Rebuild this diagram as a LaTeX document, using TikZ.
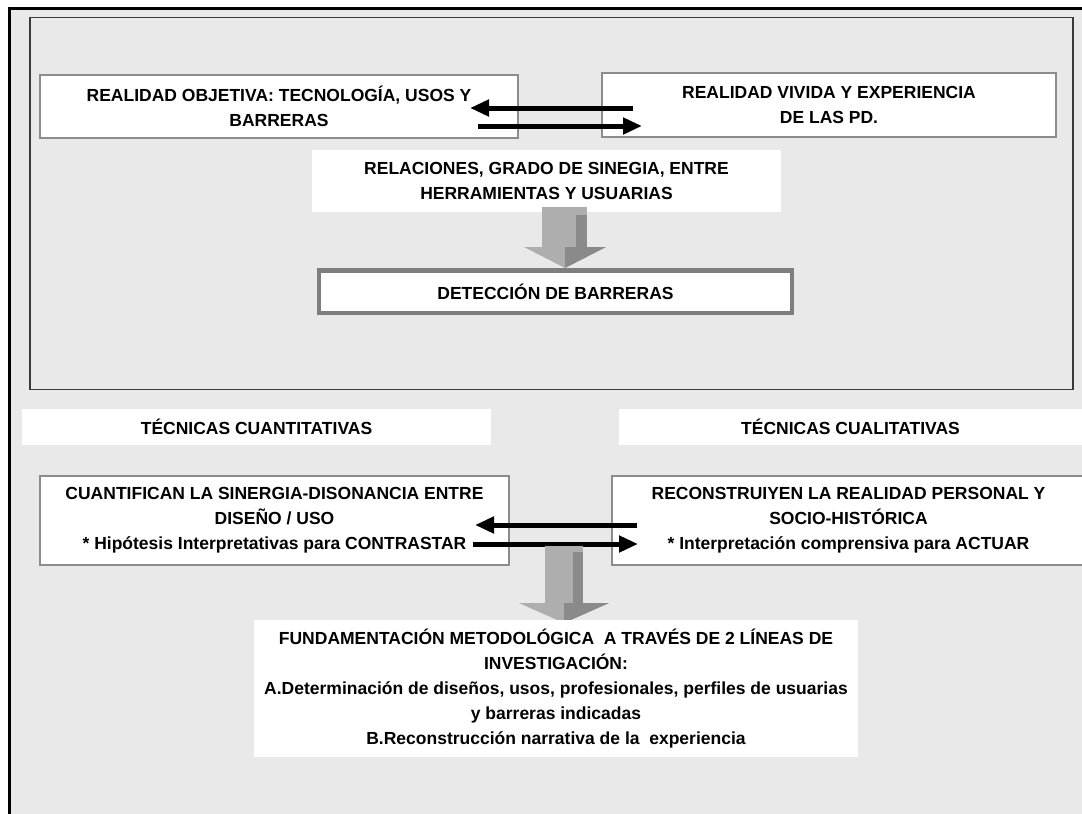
\documentclass[tikz,border=0pt]{standalone}
\usepackage{fontspec}
\setmainfont{Liberation Sans}
\usetikzlibrary{arrows.meta}
\definecolor{bg}{HTML}{E9E9E9}
\definecolor{boxgray}{HTML}{8C8C8C}
\definecolor{framegray}{HTML}{3A3A3A}
\definecolor{arrlight}{HTML}{AEAEAE}
\definecolor{arrdark}{HTML}{8A8A8A}
\definecolor{detgray}{HTML}{7E7E7E}
\begin{document}
\begin{tikzpicture}[x=1pt,y=-1pt,
  every node/.style={font=\bfseries\fontsize{17.5}{25}\selectfont, align=center, inner sep=0pt, text=black},
  wbox/.style={draw=boxgray, line width=1.3pt, fill=white},
  plainbox/.style={fill=white},
  detbox/.style={draw=detgray, line width=4.5pt, fill=white},
  dbl/.style={line width=5pt, -{Triangle[length=19pt,width=16pt]}},
]
\useasboundingbox (0,0) rectangle (1082,814);
\fill[white] (0,0) rectangle (1082,814);
\fill[bg] (9,8) rectangle (1082,814);
\draw[line width=3pt] (9,814) -- (9,8) -- (1082,8);

% upper frame
\draw[line width=1.8pt, draw=framegray] (30,17.5) rectangle (1073,389.5);

\node[wbox, minimum width=478pt, minimum height=63pt] (b1) at (279,106.5)
  {REALIDAD OBJETIVA: TECNOLOGÍA, USOS Y\\BARRERAS};
\node[wbox, minimum width=454pt, minimum height=64pt] (b2) at (829,105)
  {REALIDAD VIVIDA Y EXPERIENCIA\\DE LAS PD.};
\node[plainbox, minimum width=469pt, minimum height=62pt] (b3) at (546.5,181)
  {RELACIONES, GRADO DE SINEGIA, ENTRE\\HERRAMIENTAS Y USUARIAS};
\node[detbox, minimum width=473pt, minimum height=42.5pt] (b4) at (555.5,291.5)
  {DETECCIÓN DE BARRERAS};

% black double arrows (top)
\coordinate (a1s) at (633,108); \coordinate (a1e) at (470,108);
\coordinate (a2s) at (478,126); \coordinate (a2e) at (642,126);
\draw[dbl] (a1s) -- (a1e);
\draw[dbl] (a2s) -- (a2e);

% gray block arrow (top)
\fill[arrlight] (542,207) rectangle (587,248);
\fill[arrdark] (576,215) rectangle (587,248);
\fill[arrlight] (524,247) -- (606,247) -- (565,268) -- cycle;
\fill[arrdark] (565,247) -- (606,247) -- (565,268) -- cycle;

% lower section
\node[plainbox, minimum width=469pt, minimum height=36pt] (t1) at (256.5,427)
  {TÉCNICAS CUANTITATIVAS};
\node[plainbox, minimum width=463pt, minimum height=36pt] (t2) at (850.5,427)
  {TÉCNICAS CUALITATIVAS};

\node[wbox, minimum width=469pt, minimum height=89pt] (c1) at (274.5,520.5)
  {CUANTIFICAN LA SINERGIA-DISONANCIA ENTRE\\DISEÑO / USO\\* Hipótesis Interpretativas para CONTRASTAR};
\node[wbox, minimum width=473pt, minimum height=89pt] (c2) at (848.5,520.5)
  {RECONSTRUIYEN LA REALIDAD PERSONAL Y\\SOCIO-HISTÓRICA\\* Interpretación comprensiva para ACTUAR};

\coordinate (a3s) at (637,525); \coordinate (a3e) at (475,525);
\coordinate (a4s) at (473,544); \coordinate (a4e) at (638,544);
\draw[dbl] (a3s) -- (a3e);
\draw[dbl] (a4s) -- (a4e);

% gray block arrow (bottom)
\fill[arrlight] (545,546) rectangle (583,604);
\fill[arrdark] (573,552) rectangle (583,604);
\fill[arrlight] (519,603) -- (609,603) -- (564,623) -- cycle;
\fill[arrdark] (564,603) -- (609,603) -- (564,623) -- cycle;

\node[plainbox, minimum width=604pt, minimum height=137pt] (f) at (556,688.5)
  {FUNDAMENTACIÓN METODOLÓGICA~ A TRAVÉS DE 2 LÍNEAS DE\\INVESTIGACIÓN:\\A.Determinación de diseños, usos, profesionales, perfiles de usuarias\\y barreras indicadas\\B.Reconstrucción narrativa de la~ experiencia};
\end{tikzpicture}
\end{document}
